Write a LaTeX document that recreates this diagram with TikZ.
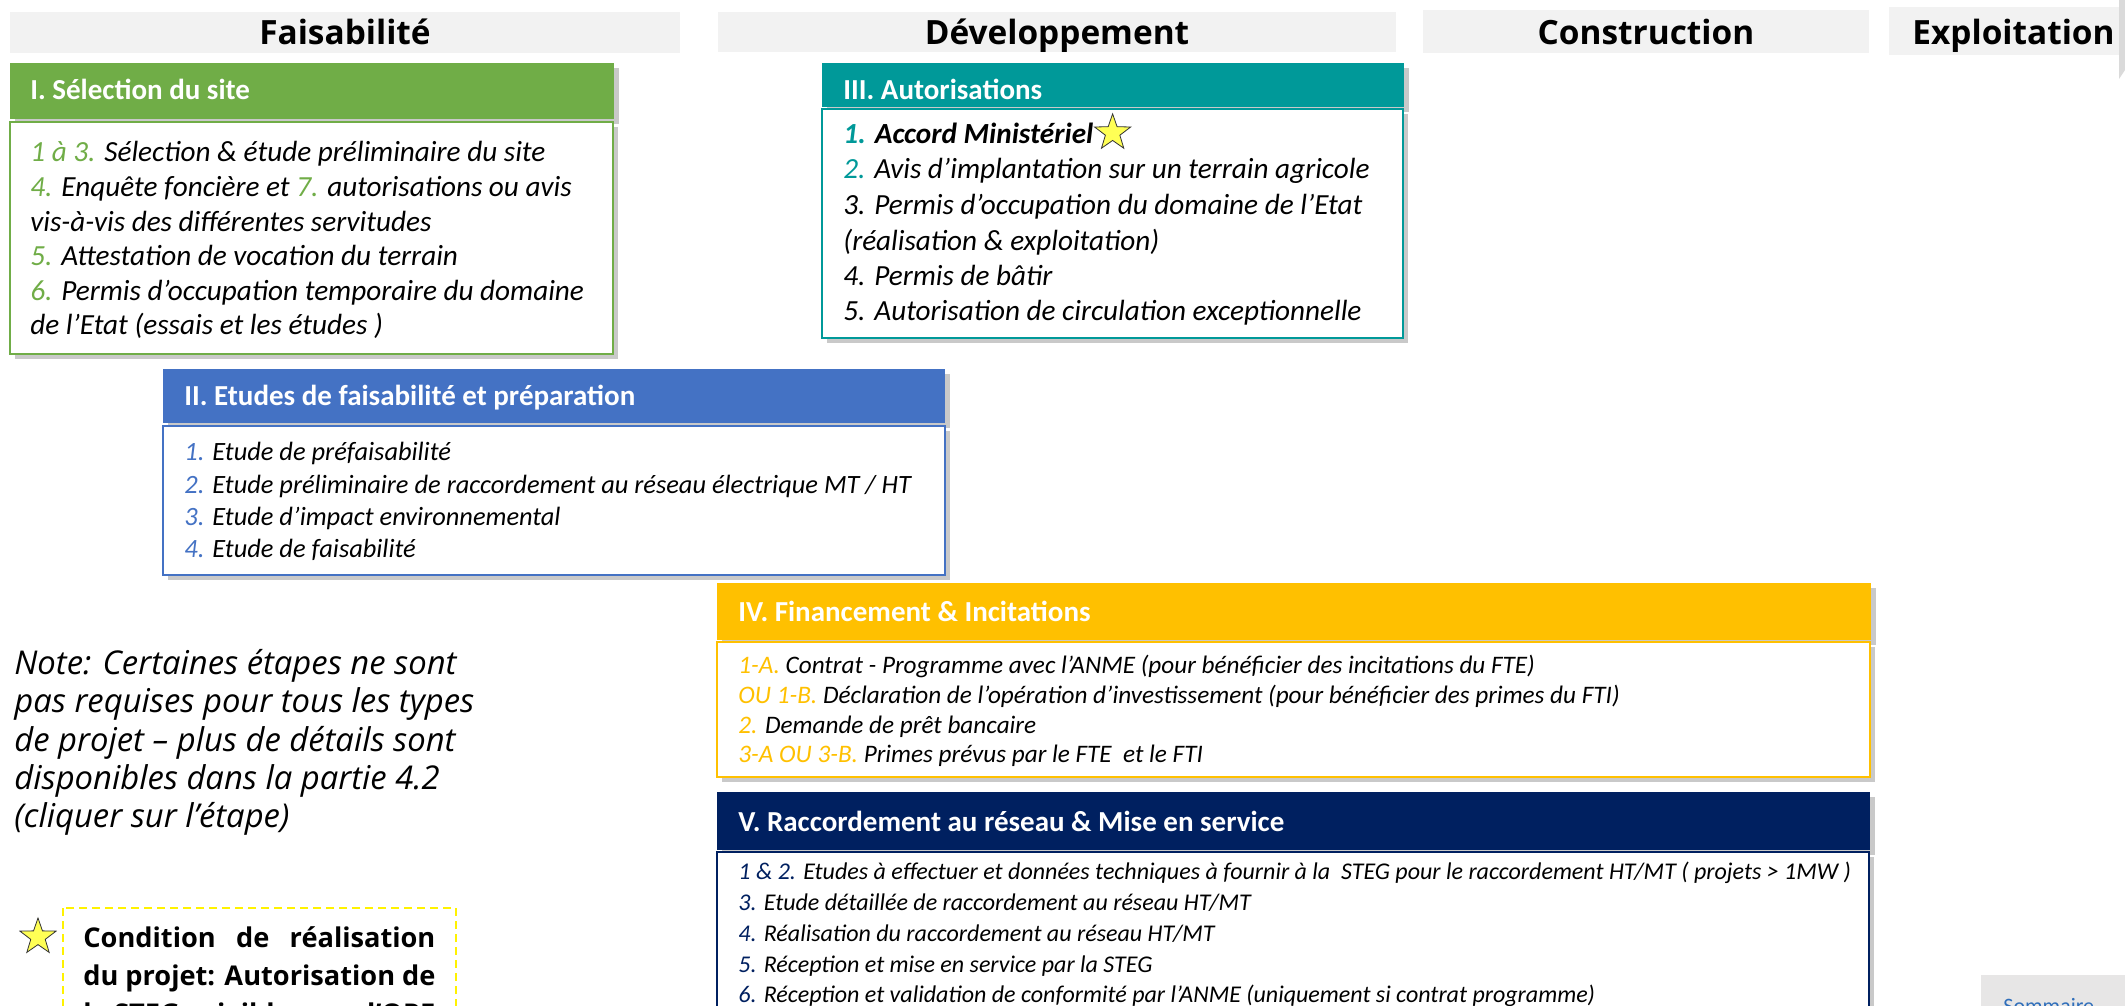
\documentclass[tikz,border=0pt]{standalone}
\usepackage{fontspec}
\setmainfont{Carlito}
\newfontfamily\opensans{Open Sans}
\usetikzlibrary{shapes.geometric,shadows,positioning}

\definecolor{fgreen}{HTML}{70AD47}
\definecolor{fteal}{HTML}{009999}
\definecolor{fblue}{HTML}{4472C4}
\definecolor{fgold}{HTML}{FFC000}
\definecolor{fnavy}{HTML}{002060}
\definecolor{hdrgray}{HTML}{F2F2F2}
\definecolor{btngray}{HTML}{E7E6E6}
\definecolor{starfill}{HTML}{FFFF55}
\definecolor{linkblue}{HTML}{2F6EBA}

\begin{document}
\begin{tikzpicture}[x=0.5pt,y=-0.5pt,
  hdr/.style={fill=hdrgray},
  hdrtext/.style={inner sep=0pt,font=\opensans\bfseries\fontsize{16.7}{20}\selectfont},
  boxshade/.style={drop shadow={shadow xshift=2.5pt,shadow yshift=-2.5pt,opacity=0.3,fill=black!70}},
  ttl/.style={text=white,anchor=base west,inner sep=0pt,font=\bfseries\fontsize{14.5}{17}\selectfont},
  linebig/.style={anchor=base west,inner sep=0pt,font=\itshape\fontsize{14.6}{17}\selectfont},
  linemid/.style={anchor=base west,inner sep=0pt,font=\itshape\fontsize{13.2}{15}\selectfont},
  linefin/.style={anchor=base west,inner sep=0pt,font=\itshape\fontsize{12.6}{14}\selectfont},
  linerac/.style={anchor=base west,inner sep=0pt,font=\itshape\fontsize{12}{14}\selectfont},
  notetext/.style={anchor=base west,inner sep=0pt,font=\opensans\itshape\fontsize{16.4}{19}\selectfont},
  condtext/.style={anchor=base west,inner sep=0pt,font=\opensans\bfseries\fontsize{13.6}{17}\selectfont},
  starmark/.style={star,star points=5,star point ratio=2.5,fill=starfill,draw=black!80,line width=0.4pt,inner sep=0pt,minimum size=19pt}]
\useasboundingbox (0,0) rectangle (2125,1006);
\clip (0,0) rectangle (2125,1006);

% phase headers
\fill[hdr] (10,12) rectangle (680,53);
\fill[hdr] (718,12) rectangle (1396,52);
\fill[hdr] (1423,10) rectangle (1869,53);
\fill[hdr] (1889,7) rectangle (2120,55);
\fill[hdrgray!90!black] (2119,0) -- (2125,0) -- (2125,70) -- (2119,79) -- cycle;
\node[hdrtext,anchor=base] (hFais) at (345,45) {Faisabilité};
\node[hdrtext,anchor=base] (hDev) at (1057,45) {Développement};
\node[hdrtext,anchor=base] (hCons) at (1646,45) {Construction};
\node[hdrtext,anchor=base west] (hExpl) at (1912,45) {Exploitation};

% I
\fill[fgreen,boxshade] (10,63) rectangle (614,119);
\draw[fgreen,line width=1pt,fill=white,boxshade] (10,122) rectangle (613,354);
\node[ttl] (selT) at (30,100) {I. Sélection du site};
\node[linebig] (sel1) at (30,162) {{\color{fgreen}1 à 3.} Sélection \& étude préliminaire du site};
\node[linebig] (sel2) at (30,196) {{\color{fgreen}4.} Enquête foncière et {\color{fgreen}7.} autorisations ou avis};
\node[linebig] (sel3) at (30,231) {vis-à-vis des différentes servitudes};
\node[linebig] (sel4) at (30,265) {{\color{fgreen}5.} Attestation de vocation du terrain};
\node[linebig] (sel5) at (30,300) {{\color{fgreen}6.} Permis d’occupation temporaire du domaine};
\node[linebig] (sel6) at (30,334) {de l’Etat (essais et les études )};

% III
\fill[fteal,boxshade] (822,63) rectangle (1404,107);
\draw[fteal,line width=1pt,fill=white,boxshade] (822,109) rectangle (1403,338);
\node[ttl] (autT) at (843,100) {III. Autorisations};
\node[linebig] (aut1) at (843,143) {\bfseries{\color{fteal}1.} Accord Ministériel};
\node[starmark,right=4pt of aut1] (autStar) {};
\node[linebig] (aut2) at (843,178) {{\color{fteal}2.} Avis d’implantation sur un terrain agricole};
\node[linebig] (aut3) at (843,214) {3. Permis d’occupation du domaine de l’Etat};
\node[linebig] (aut4) at (843,250) {(réalisation \& exploitation)};
\node[linebig] (aut5) at (843,285) {4. Permis de bâtir};
\node[linebig] (aut6) at (843,320) {5. Autorisation de circulation exceptionnelle};

% II
\fill[fblue,boxshade] (163,369) rectangle (945,423);
\draw[fblue,line width=1pt,fill=white,boxshade] (163,426) rectangle (945,575);
\node[ttl] (etuT) at (184,405) {II. Etudes de faisabilité et préparation};
\node[linemid] (etu1) at (184,460) {{\color{fblue}1.} Etude de préfaisabilité};
\node[linemid] (etu2) at (184,493) {{\color{fblue}2.} Etude préliminaire de raccordement au réseau électrique MT / HT};
\node[linemid] (etu3) at (184,525) {{\color{fblue}3.} Etude d’impact environnemental};
\node[linemid] (etu4) at (184,557) {{\color{fblue}4.} Etude de faisabilité};

% IV
\fill[fgold,boxshade] (717,583) rectangle (1871,640);
\draw[fgold,line width=1pt,fill=white,boxshade] (717,642) rectangle (1870,777);
\node[ttl] (finT) at (738,621) {IV. Financement \& Incitations};
\node[linefin] (fin1) at (738,673) {{\color{fgold}1-A.} Contrat - Programme avec l’ANME (pour bénéficier des incitations du FTE)};
\node[linefin] (fin2) at (738,703) {{\color{fgold}OU 1-B.} Déclaration de l’opération d’investissement (pour bénéficier des primes du FTI)};
\node[linefin] (fin3) at (738,733) {{\color{fgold}2.} Demande de prêt bancaire};
\node[linefin] (fin4) at (738,762) {{\color{fgold}3-A OU 3-B.} Primes prévus par le FTE\ \ et le FTI};

% V
\fill[fnavy,boxshade] (717,792) rectangle (1870,850);
\draw[fnavy,line width=1pt,fill=white,boxshade] (717,852) rectangle (1869,1040);
\node[ttl] (racT) at (738,831) {V. Raccordement au réseau \& Mise en service};
\node[linerac] (rac1) at (738,879) {{\color{fnavy}1 \& 2.} Etudes à effectuer et données techniques à fournir à la\ \ STEG pour le raccordement HT/MT ( projets > 1MW )};
\node[linerac] (rac2) at (738,910) {{\color{fnavy}3.} Etude détaillée de raccordement au réseau HT/MT};
\node[linerac] (rac3) at (738,941) {{\color{fnavy}4.} Réalisation du raccordement au réseau HT/MT};
\node[linerac] (rac4) at (738,972) {{\color{fnavy}5.} Réception et mise en service par la STEG};
\node[linerac] (rac5) at (738,1002) {{\color{fnavy}6.} Réception et validation de conformité par l’ANME (uniquement si contrat programme)};

% note
\node[notetext] (note1) at (14,674) {Note: Certaines étapes ne sont};
\node[notetext] (note2) at (14,712) {pas requises pour tous les types};
\node[notetext] (note3) at (14,751) {de projet – plus de détails sont};
\node[notetext] (note4) at (14,789) {disponibles dans la partie 4.2};
\node[notetext] (note5) at (14,827) {(cliquer sur l’étape)};

% condition
\draw[yellow,line width=1pt,dash pattern=on 4pt off 2.5pt] (63,908) rectangle (456,1060);
\node[starmark] (condStar) at (38,937) {};
\node[condtext] (cond1) at (83,947) {\makebox[176pt][s]{Condition de réalisation}};
\node[condtext] (cond2) at (83,985) {\makebox[176pt][s]{du projet: Autorisation de}};
\node[condtext] (cond3) at (83,1023) {\makebox[176pt][s]{la STEG exigible pour l’OPE}};

% sommaire
\fill[btngray] (1981,975) rectangle (2140,1040);
\node[anchor=base west,inner sep=0pt,text=linkblue,font=\fontsize{11}{13}\selectfont] (somm) at (2003,1013) {Sommaire};
\end{tikzpicture}
\end{document}
